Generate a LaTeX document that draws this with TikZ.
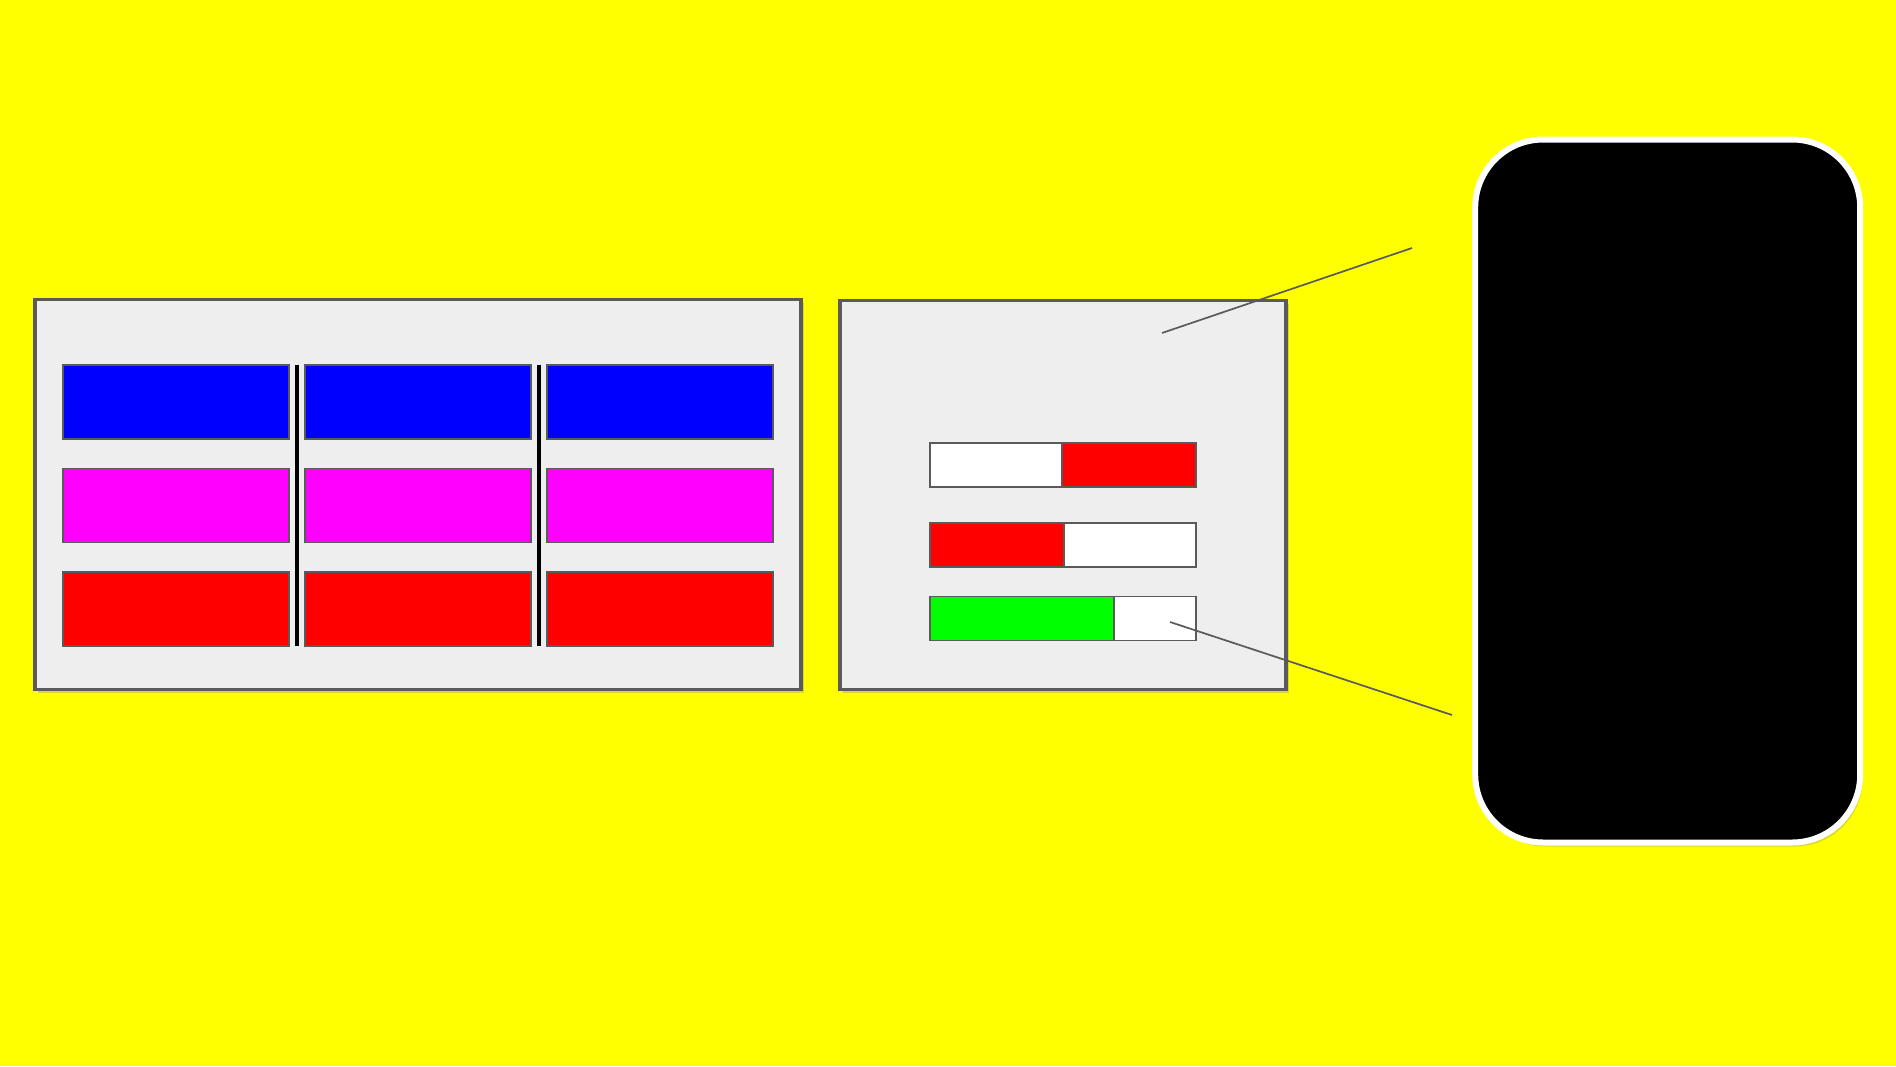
\documentclass[tikz,border=0pt]{standalone}
\usepackage{tikz}
\usetikzlibrary{positioning,calc,shadows}
\definecolor{canvas}{HTML}{FFFF00}
\definecolor{panelbg}{HTML}{EEEEEE}
\definecolor{frame}{HTML}{5A5A5A}
\definecolor{cellblue}{HTML}{0000FF}
\definecolor{cellpink}{HTML}{FF00FF}
\definecolor{cellred}{HTML}{FF0000}
\definecolor{cellgreen}{HTML}{00FF00}
\tikzset{
  panel/.style={draw=frame,line width=3.5pt,fill=panelbg,inner sep=0pt,outer sep=0pt,
    drop shadow={opacity=0.3,shadow xshift=2.5pt,shadow yshift=-3pt}},
  cell/.style={draw=frame,line width=1.7pt,inner sep=0pt,outer sep=0pt,minimum width=226pt,minimum height=74pt},
  bluecell/.style={cell,fill=cellblue},
  pinkcell/.style={cell,fill=cellpink},
  redcell/.style={cell,fill=cellred},
  divider/.style={draw=black,line width=4pt},
  barpart/.style={draw=frame,line width=1.7pt,inner sep=0pt,outer sep=0pt,minimum height=44pt,anchor=west},
  phonebody/.style={draw=white,line width=6pt,fill=black,rounded corners=68pt,inner sep=0pt,outer sep=0pt,
    drop shadow={opacity=0.3,shadow xshift=2.5pt,shadow yshift=-4pt}},
  callout/.style={draw=frame,line width=1.7pt}
}
\begin{document}
\begin{tikzpicture}[x=1pt,y=-1pt]
  \fill[canvas] (0,0) rectangle (1896,1066);
  \useasboundingbox (0,0) rectangle (1896,1066);

  % grid panel
  \node[panel,minimum width=766pt,minimum height=390pt] (grid) at (418,494.5) {};
  \node[bluecell] (b1) at (175.7,401.7) {};
  \node[bluecell] (b2) at (418,401.7) {};
  \node[bluecell] (b3) at (660.3,401.7) {};
  \node[pinkcell] (m1) at (175.7,505.5) {};
  \node[pinkcell] (m2) at (418,505.5) {};
  \node[pinkcell] (m3) at (660.3,505.5) {};
  \node[redcell] (r1) at (175.7,609.3) {};
  \node[redcell] (r2) at (418,609.3) {};
  \node[redcell] (r3) at (660.3,609.3) {};
  \draw[divider] ($(b1.north east)!0.5!(b2.north west)$) -- ($(r1.south east)!0.5!(r2.south west)$);
  \draw[divider] ($(b2.north east)!0.5!(b3.north west)$) -- ($(r2.south east)!0.5!(r3.south west)$);

  % bar panel
  \node[panel,minimum width=446pt,minimum height=389pt] (bars) at (1063,495) {};
  \node[barpart,fill=white,minimum width=131.7pt] (barAl) at (930,465) {};
  \node[barpart,fill=cellred,minimum width=134.6pt,right=0pt of barAl] (barAr) {};
  \node[barpart,fill=cellred,minimum width=134pt] (barBl) at (930,545) {};
  \node[barpart,fill=white,minimum width=132.3pt,right=0pt of barBl] (barBr) {};
  \node[barpart,fill=cellgreen,minimum width=183.7pt] (barCl) at (930,618.5) {};
  \node[barpart,fill=white,minimum width=82.6pt,right=0pt of barCl] (barCr) {};

  % phone
  \node[phonebody,minimum width=385pt,minimum height=703pt] (phone) at (1667.7,491) {};

  \coordinate (topin) at (1162,333);
  \coordinate (topout) at (1412,248);
  \coordinate (lowin) at (1170,622);
  \coordinate (lowout) at (1452,715);
  \draw[callout] (topin) -- (topout);
  \draw[callout] (lowin) -- (lowout);
\end{tikzpicture}
\end{document}
